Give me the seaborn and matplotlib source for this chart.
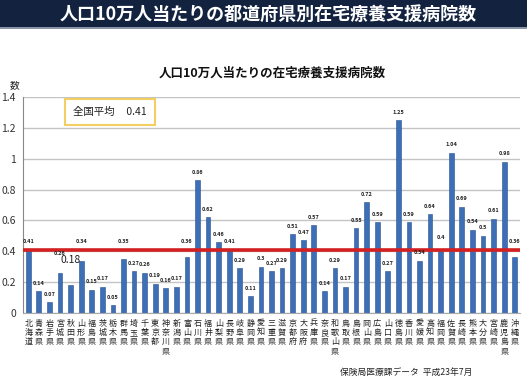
import numpy as np
import pandas as pd
import matplotlib
matplotlib.use("Agg")
import matplotlib.pyplot as plt
import seaborn as sns
from matplotlib.patches import Rectangle

sns.set_style("white")
plt.rcParams['font.family'] = ['Noto Sans CJK JP', 'DejaVu Sans']

prefs = ["北海道", "青森県", "岩手県", "宮城県", "秋田県", "山形県", "福島県", "茨城県",
         "栃木県", "群馬県", "埼玉県", "千葉県", "東京都", "神奈川県", "新潟県", "富山県",
         "石川県", "福井県", "山梨県", "長野県", "岐阜県", "静岡県", "愛知県", "三重県",
         "滋賀県", "京都府", "大阪府", "兵庫県", "奈良県", "和歌山県", "鳥取県", "島根県",
         "岡山県", "広島県", "山口県", "徳島県", "香川県", "愛媛県", "高知県", "福岡県",
         "佐賀県", "長崎県", "熊本県", "大分県", "宮崎県", "鹿児島県", "沖縄県"]
values = [0.41, 0.14, 0.07, 0.26, 0.18, 0.34, 0.15, 0.17,
          0.05, 0.35, 0.27, 0.26, 0.19, 0.16, 0.17, 0.36,
          0.86, 0.62, 0.46, 0.41, 0.29, 0.11, 0.3, 0.27,
          0.29, 0.51, 0.47, 0.57, 0.14, 0.29, 0.17, 0.55,
          0.72, 0.59, 0.27, 1.25, 0.59, 0.34, 0.64, 0.4,
          1.04, 0.69, 0.54, 0.5, 0.61, 0.98, 0.36]
national_avg = 0.41
yticks = [0, 0.2, 0.4, 0.6, 0.8, 1.0, 1.2, 1.4]
ytick_labels = ["0", "0.2", "0.4", "0.6", "0.8", "1", "1.2", "1.4"]

# labels that sit away from the bar top in the original
label_y = {"北海道": 0.445, "宮城県": 0.37, "秋田県": 0.31, "山形県": 0.45, "群馬県": 0.45,
           "富山県": 0.45, "長野県": 0.445, "福岡県": 0.475, "沖縄県": 0.45}

df = pd.DataFrame({"pref": prefs, "value": values})

fig = plt.figure(figsize=(5.27, 3.79), dpi=100)
# banner
fig.patches.append(Rectangle((0, 1 - 27 / 379), 1, 27 / 379, transform=fig.transFigure,
                             facecolor="#13233f", edgecolor="none", zorder=0))
fig.patches.append(Rectangle((0, 1 - 29 / 379), 1, 2 / 379, transform=fig.transFigure,
                             facecolor="#8a96a8", edgecolor="none", zorder=0))
fig.text(0.508, 1 - 14 / 379, "人口10万人当たりの都道府県別在宅療養支援病院数", color="white",
         fontsize=13, fontweight="bold", ha="center", va="center")

ax = fig.add_axes([23 / 527, 1 - 313 / 379, 497 / 527, 216 / 379])
sns.barplot(data=df, x="pref", y="value", color="#3d6fb6", width=0.45, ax=ax,
            saturation=1, edgecolor="#2a5090", linewidth=0.4)

ax.set_ylim(0, 1.4)
ax.set_yticks(yticks)
ax.set_yticklabels(ytick_labels, fontsize=7.5, color="#333333")
ax.yaxis.grid(True, color="#c4c4c4", linewidth=1)
ax.set_axisbelow(True)
for s in ["top", "right"]:
    ax.spines[s].set_visible(False)
ax.spines["left"].set_color("#888888")
ax.spines["bottom"].set_color("#aaaaaa")
ax.tick_params(axis="y", length=3, color="#888888", pad=2)
ax.set_xticks(range(len(prefs)))
ax.set_xticklabels(["\n".join(p) for p in prefs], fontsize=5.8, color="#222222",
                   linespacing=1.05, va="top")
ax.tick_params(axis="x", length=0, pad=4)
ax.set_xlim(-0.5, len(prefs) - 0.5)
ax.set_xlabel("")
ax.set_ylabel("")

ax.axhline(national_avg, color="#d42020", linewidth=2.6, zorder=3)

for i, (p, v) in enumerate(zip(prefs, values)):
    y = label_y.get(p, v + 0.035)
    fs = 7.5 if p == "秋田県" else 4.0
    ax.text(i, y, f"{v:g}", ha="center", va="bottom", fontsize=fs, color="#222222",
            fontweight="bold" if fs < 6 else "normal")

fig.text(272 / 527, 1 - 73 / 379, "人口10万人当たりの在宅療養支援病院数", fontsize=9,
         fontweight="bold", ha="center", va="center", color="#111111")
fig.text(15 / 527, 1 - 85 / 379, "数", fontsize=7, ha="center", va="center", color="#222222")

ax.text(7.75, 1.303, "全国平均     0.41", fontsize=7.5, ha="center", va="center", color="#222222",
        bbox=dict(boxstyle="square,pad=0.8", facecolor="white", edgecolor="#f2cf60", linewidth=1.5))

fig.text(340 / 527, 1 - 372 / 379, "保険局医療課データ  平成23年7月", fontsize=6.3,
         ha="left", va="center", color="#222222")

fig.savefig("out.png", dpi=100)
